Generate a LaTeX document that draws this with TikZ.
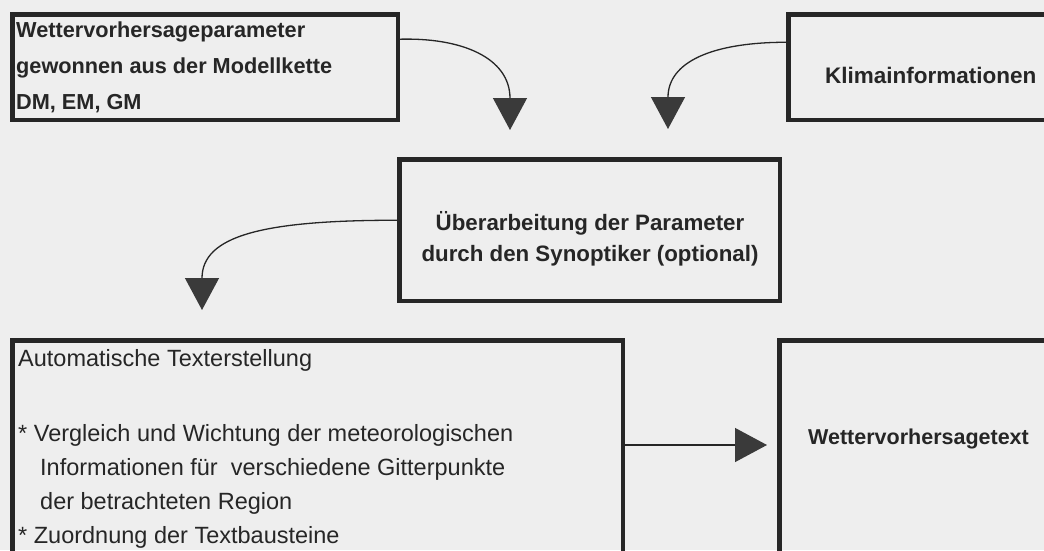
\documentclass[tikz,border=0pt]{standalone}
\usepackage{fontspec}
\setmainfont{Liberation Sans}
\usetikzlibrary{arrows.meta}
\definecolor{bg}{HTML}{EEEEEE}
\definecolor{ink}{HTML}{262626}
\definecolor{tipgray}{HTML}{3A3A3A}
\tikzset{
  box/.style={draw=ink, line width=4.5pt, rectangle, inner sep=0pt, outer sep=0pt, anchor=north west},
  txtbold/.style={inner sep=0pt, text=ink, align=left, font=\fontsize{21.7}{36}\selectfont\bfseries},
  txtmid/.style={inner sep=0pt, text=ink, align=center, font=\fontsize{22.3}{31}\selectfont\bfseries},
  txtreg/.style={inner sep=0pt, text=ink, align=left, font=\fontsize{23.5}{34}\selectfont},
  conn/.style={draw=ink, line width=1.3pt, -{Triangle[length=32pt,width=34pt,color=tipgray]}}
}
\begin{document}
\begin{tikzpicture}[x=1pt,y=-1pt]
\useasboundingbox (0,0) rectangle (1044,550);
\fill[bg] (0,0) rectangle (1044,550);
\clip (0,0) rectangle (1044,550);

% boxes
\node[box, minimum width=385.5pt, minimum height=105.5pt] (A) at (12.25,14.25) {};
\node[box, minimum width=280pt, minimum height=105.5pt] (B) at (788.25,14.25) {};
\node[box, minimum width=380.5pt, minimum height=141.5pt] (C) at (399.25,159.25) {};
\node[box, minimum width=610.5pt, minimum height=240pt] (D) at (12.25,340.25) {};
\node[box, minimum width=280pt, minimum height=240pt] (E) at (779.25,340.25) {};

% texts
\node[txtbold, anchor=north west] (tA) at (16,21) {\rule{0pt}{16pt}Wettervorhersageparameter\\gewonnen aus der Modellkette\\DM, EM, GM};
\node[txtbold, anchor=base west, font=\fontsize{22.5}{27}\selectfont\bfseries] (tB) at (825,83) {Klimainformationen};
\node[txtmid, anchor=north] (tC) at (590,211) {\rule{0pt}{17pt}Überarbeitung der Parameter\\durch den Synoptiker (optional)};
\node[txtreg, anchor=north west] (tD) at (18,349) {\rule{0pt}{17pt}Automatische Texterstellung\\[41pt]* Vergleich und Wichtung der meteorologischen\\\hspace*{22pt}Informationen für~ verschiedene Gitterpunkte\\\hspace*{22pt}der betrachteten Region\\* Zuordnung der Textbausteine};
\node[txtbold, anchor=base west, font=\fontsize{21.5}{27}\selectfont\bfseries] (tE) at (808,444) {Wettervorhersagetext};

% connector ends
\coordinate (a1) at (510,130);
\coordinate (a2) at (668,129);
\coordinate (a3) at (202,310);
\coordinate (a4) at (767,445);

% connectors
\draw[conn] ([yshift=-25pt]A.north east) .. controls (462,37) and (510,58) .. (a1);
\draw[conn] ([yshift=-28pt]B.north west) .. controls (712,42) and (668,62) .. (a2);
\draw[conn] ([yshift=-61pt]C.north west) .. controls (262,220) and (202,236) .. (a3);
\draw[conn] ([yshift=-104.75pt]D.north east) -- (a4);
\end{tikzpicture}
\end{document}
